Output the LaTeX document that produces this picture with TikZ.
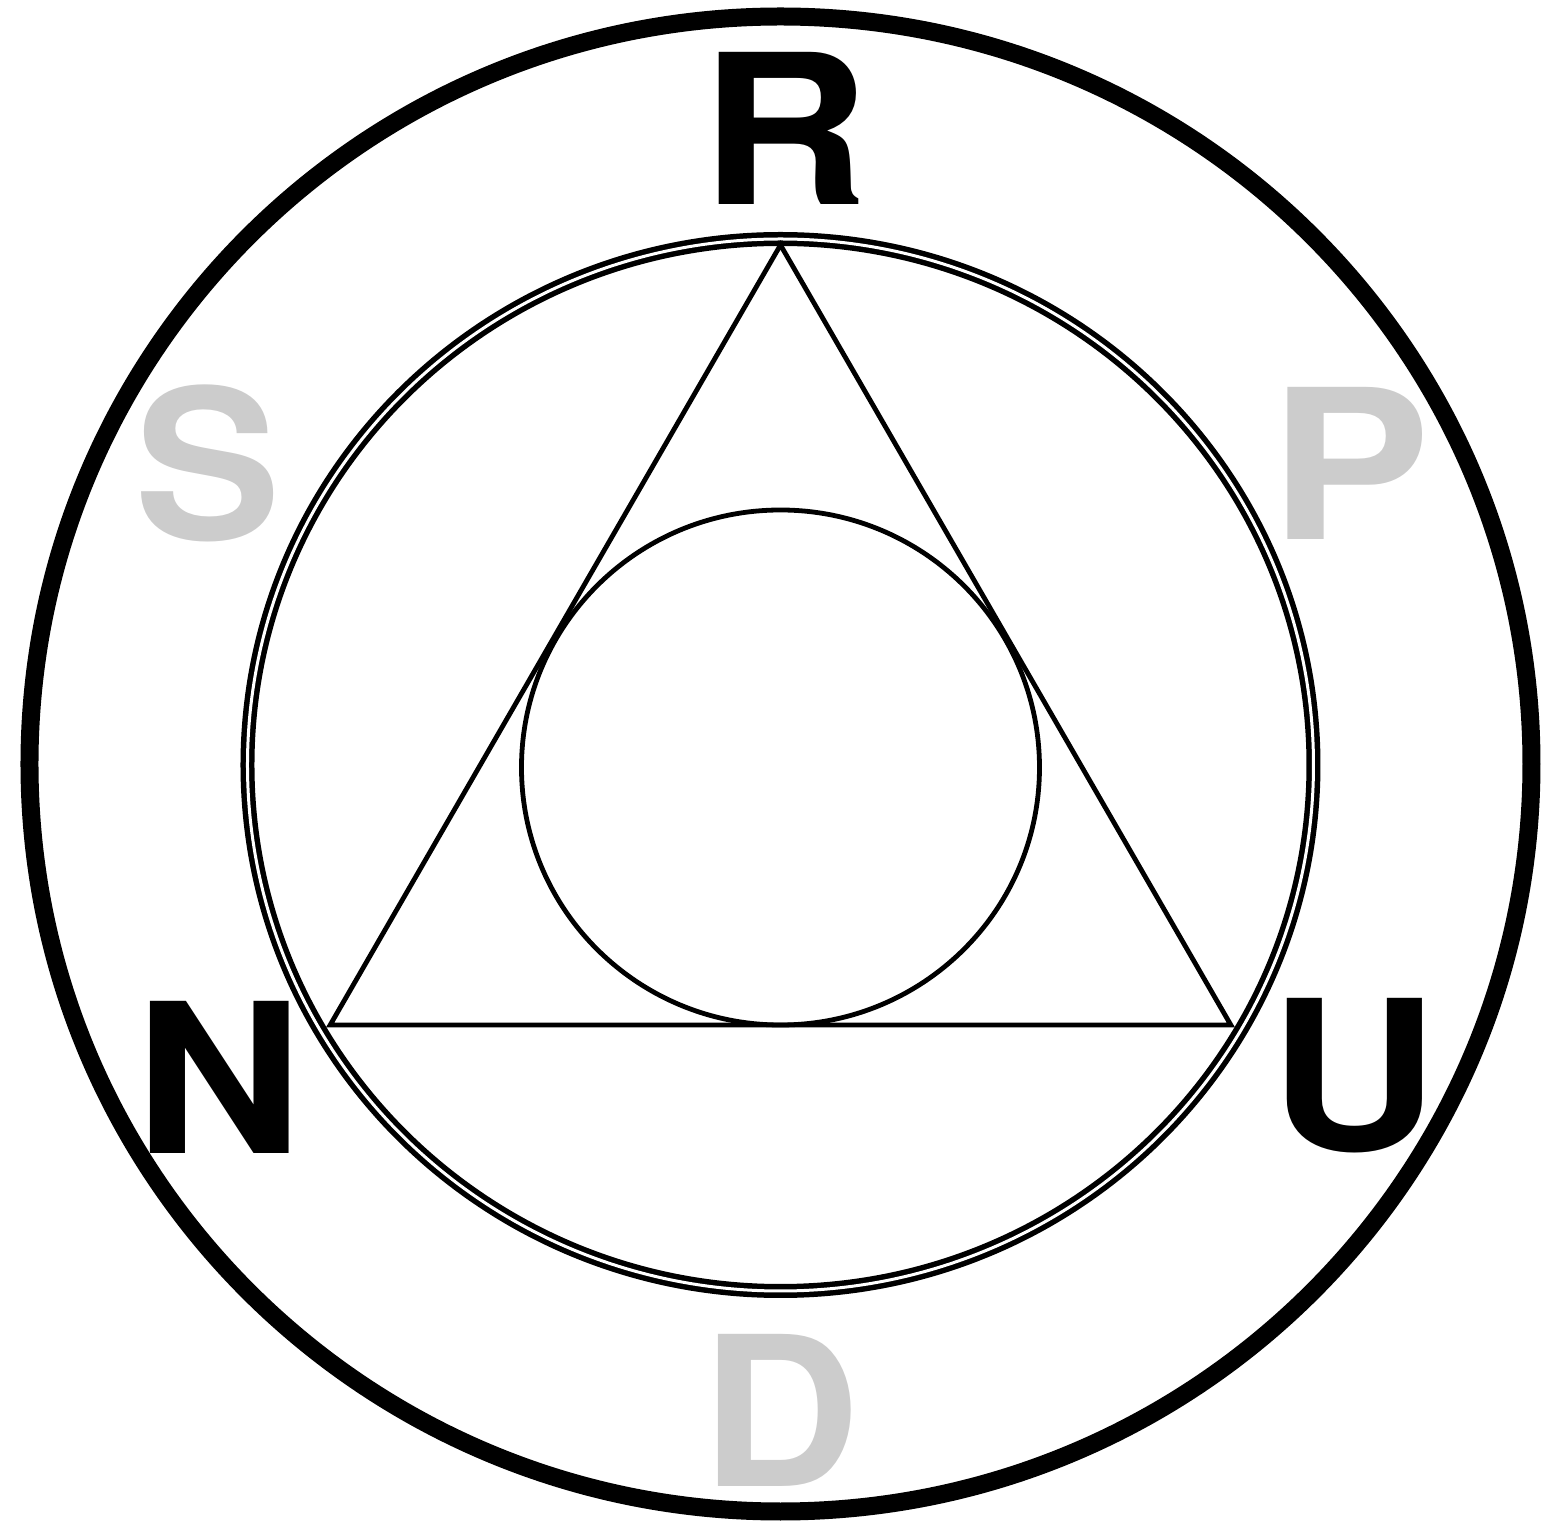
\documentclass[tikz,border=0pt]{standalone}
\usepackage{fontspec}
\setmainfont{TeX Gyre Heros}
\usepackage{tikz}
\definecolor{ink}{HTML}{000000}
\definecolor{faded}{HTML}{CCCCCC}
\tikzset{
  rim/.style={draw=ink,line width=0.18cm},
  ring/.style={draw=ink,line width=0.055cm,double=white,double distance=0.03cm},
  thin/.style={draw=ink,line width=0.048cm,line join=miter},
  letter/.style={inner sep=0pt,text=ink,xscale=1.12,
                 font=\fontsize{59.4}{60}\selectfont\bfseries},
  dim/.style={letter,text=faded,xscale=0.94},
}
\begin{document}
\begin{tikzpicture}
    \useasboundingbox (-7.805,-7.62) rectangle (7.775,7.65);
    % circles
    \draw[rim] (0,0.01) ellipse [x radius=7.51,y radius=7.475];
    \draw[ring] (0,0) ellipse [x radius=5.33,y radius=5.26];
    \coordinate (apex) at (0,5.2);
    \coordinate (left) at (210:5.2);
    \coordinate (right) at (330:5.2);
    \draw[thin] (apex) -- (left) -- (right) -- cycle;
    \draw[thin] (0,-0.025) ellipse [x radius=2.59,y radius=2.575];
    % letters
    \node[letter] (r) at (0.04,6.37) {R};
    \node[dim] (s) at (-5.725,3.02) {S};
    \node[dim,xscale=1.1] (p) at (5.695,3.02) {P};
    \node[letter] (n) at (-5.615,-3.12) {N};
    \node[letter] (u) at (5.735,-3.11) {U};
    \node[dim] (d) at (0,-6.45) {D};
  \end{tikzpicture}
\end{document}
